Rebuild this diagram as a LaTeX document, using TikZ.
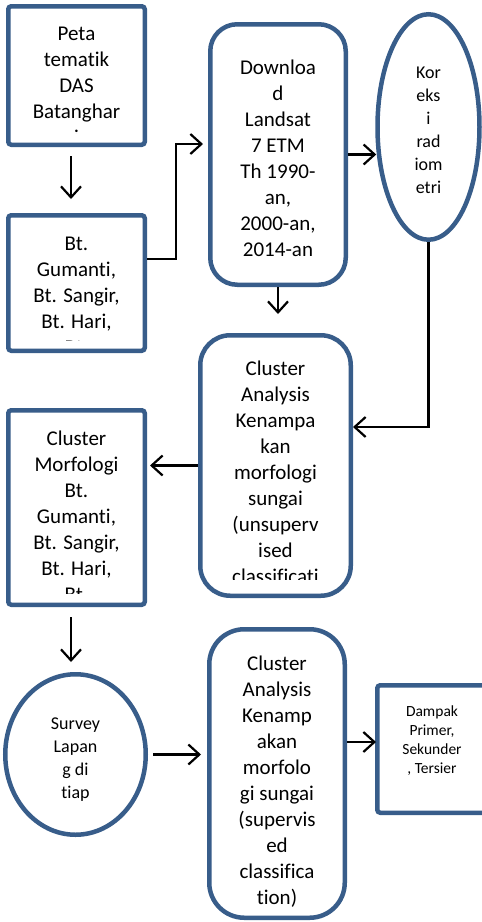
\documentclass[tikz,border=0pt]{standalone}
\usepackage{fontspec}
\setmainfont{Carlito}[Ligatures=NoCommon]
\usetikzlibrary{arrows.meta,shapes.geometric}
\definecolor{bord}{HTML}{385D8A}
\begin{document}
\begin{tikzpicture}[x=1pt,y=-1pt,
  box/.style={draw=bord, line width=4.5pt, fill=white, rounded corners=3pt, inner sep=0pt},
  rbox/.style={box, rounded corners=#1},
  oval/.style={draw=bord, line width=4.5pt, fill=white, ellipse, inner sep=0pt},
  txt/.style={align=center, inner sep=0pt, anchor=base, font=\fontsize{21}{26}\selectfont},
  txts/.style={align=center, inner sep=0pt, anchor=base, font=\fontsize{18}{23}\selectfont},
  txtxs/.style={align=center, inner sep=0pt, anchor=base, font=\fontsize{15.5}{19}\selectfont},
  arr/.style={draw=black, line width=2.2pt, -{Straight Barb[length=11pt,width=20pt]}}]
\useasboundingbox (0,0) rectangle (482,922);

% shapes
\node[box, minimum width=136.5pt, minimum height=138.5pt] (b1) at (76.5,75.5) {};
\node[box, minimum width=136.5pt, minimum height=135.5pt] (b2) at (76.5,283) {};
\node[rbox=27pt, minimum width=135.5pt, minimum height=260.5pt] (dl) at (278,154.5) {};
\node[oval, minimum width=102pt, minimum height=225.5pt] (kor) at (428.5,127) {};
\node[rbox=30pt, minimum width=150.5pt, minimum height=260.5pt] (cua) at (275.5,465.5) {};
\node[box, minimum width=136.5pt, minimum height=194.5pt] (cm) at (76.5,507.5) {};
\node[oval, minimum width=140.5pt, minimum height=160.5pt] (sv) at (75.5,754.5) {};
\node[rbox=35pt, minimum width=135.5pt, minimum height=288.5pt] (sup) at (277,773.5) {};
\node[box, minimum width=120.5pt, minimum height=127.5pt] (dp) at (437.5,749) {};

% texts (anchor base = baseline of the last line)
\begin{scope}
\clip (10,10) rectangle (143,133);
\node[txt] (t1) at (76.5,144) {Peta\\tematik\\DAS\\Batanghar\\i};
\end{scope}
\begin{scope}
\clip (10,217) rectangle (143,340);
\node[txt] (t2) at (76.5,354) {Bt.\\Gumanti,\\Bt. Sangir,\\Bt. Hari,\\Bt.};
\end{scope}
\node[txt] (tdl) at (278,256) {Downloa\\d\\Landsat\\7 ETM\\Th 1990-\\an,\\2000-an,\\2014-an};
\node[txts] (tkor) at (428.5,193) {Kor\\eks\\i\\rad\\iom\\etri};
\begin{scope}
\clip (202,337) rectangle (349,579);
\node[txt] (tcua) at (275.5,609) {Cluster\\Analysis\\Kenampa\\kan\\morfologi\\sungai\\(unsuperv\\ised\\classificati\\on)};
\end{scope}
\begin{scope}
\clip (10,412) rectangle (143,593);
\node[txt] (tcm) at (76.5,601) {Cluster\\Morfologi\\Bt.\\Gumanti,\\Bt. Sangir,\\Bt. Hari,\\Bt.};
\end{scope}
\node[txts] (tsv) at (75.5,798) {Survey\\Lapan\\g di\\tiap};
\node[txt] (tsup) at (277,904) {Cluster\\Analysis\\Kenamp\\akan\\morfolo\\gi sungai\\(supervis\\ed\\classifica\\tion)};
\node[txtxs] (tdp) at (432,773) {Dampak\\Primer,\\Sekunder\\, Tersier};

% connectors
\draw[arr, shorten <=9pt, shorten >=14pt] ([xshift=-5.5pt]b1.south) -- ([xshift=-5.5pt]b2.north);
\draw[arr, shorten >=5pt] ([yshift=24pt]b2.east) -- ++(29,0) |- ([yshift=10.5pt]dl.west);
\draw[arr, shorten >=-1pt] (dl.east) -- (dl.east -| kor.west);
\draw[arr] (kor.south) |- ([yshift=38.5pt]cua.east);
\draw[arr, shorten >=19pt] (dl.south) -- (dl.south |- cua.north);
\draw[arr, shorten >=3pt] (cua.west) -- (cua.west -| cm.east);
\draw[arr, shorten <=10pt, shorten >=10pt] ([xshift=-5.5pt]cm.south) -- ([xshift=-5.5pt]cm.south |- sv.north);
\draw[arr, shorten <=5pt, shorten >=6pt] (sv.east) -- (sv.east -| sup.west);
\draw[arr, shorten >=-1pt] ([yshift=31.5pt]sup.east) -- ([yshift=31.5pt]sup.east -| dp.west);
\end{tikzpicture}
\end{document}
